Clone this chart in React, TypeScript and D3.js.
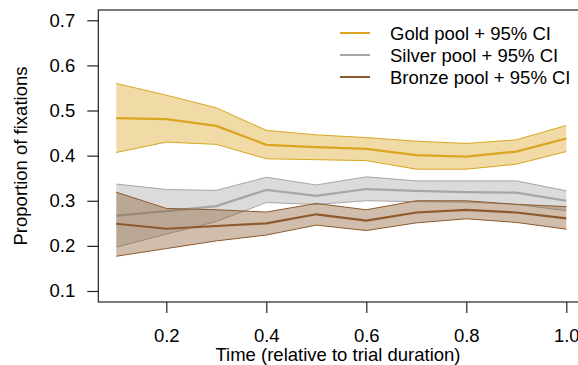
//  IMPORTS
//-------------------------------------------------------//

import { useRef, useEffect } from "react";
import * as d3 from "d3";


//  DATA
//-------------------------------------------------------//

const time = [0.1, 0.2, 0.3, 0.4, 0.5, 0.6, 0.7, 0.8, 0.9, 1.0];

const goldMean  = [0.483, 0.481, 0.466, 0.424, 0.419, 0.415, 0.401, 0.398, 0.409, 0.438];
const goldUpper = [0.560, 0.534, 0.506, 0.456, 0.446, 0.440, 0.432, 0.427, 0.435, 0.467];
const goldLower = [0.407, 0.430, 0.425, 0.393, 0.391, 0.389, 0.370, 0.370, 0.381, 0.409];

const silverMean  = [0.267, 0.277, 0.288, 0.324, 0.311, 0.326, 0.322, 0.319, 0.318, 0.300];
const silverUpper = [0.337, 0.325, 0.323, 0.352, 0.335, 0.353, 0.344, 0.344, 0.344, 0.322];
const silverLower = [0.197, 0.226, 0.254, 0.296, 0.292, 0.300, 0.298, 0.297, 0.292, 0.278];

const bronzeMean  = [0.249, 0.238, 0.244, 0.250, 0.270, 0.256, 0.274, 0.280, 0.274, 0.261];
const bronzeUpper = [0.319, 0.283, 0.280, 0.275, 0.294, 0.280, 0.300, 0.300, 0.292, 0.287];
const bronzeLower = [0.177, 0.194, 0.211, 0.224, 0.246, 0.234, 0.251, 0.260, 0.252, 0.237];

const xTicks = [0.2, 0.4, 0.6, 0.8, 1.0];
const yTicks = [0.1, 0.2, 0.3, 0.4, 0.5, 0.6, 0.7];

const seriesNames = ["Gold pool + 95% CI", "Silver pool + 95% CI", "Bronze pool + 95% CI"];
const seriesColors = ["#DAA520", "#A6A6A6", "#8C5A2D"];


//  MAIN FUNCTION
//-------------------------------------------------------//

const FONT = "'Liberation Sans', Arial, Helvetica, sans-serif";
const FONT_SIZE = 18.5;

export default function App({
  width = 578,
  height = 365,
  plotLeft = 98.3,
  plotRight = 584.3,
  plotTop = 10,
  plotBottom = 302
}) {
  const gx = useRef<SVGGElement>(null);
  const gy = useRef<SVGGElement>(null);

  // R-style limits: data range padded by 4% on each side
  const x = d3.scaleLinear([0.064, 1.036], [plotLeft, plotRight]);
  const y = d3.scaleLinear([0.0756, 0.7228], [plotBottom, plotTop]);

  const line = d3.line<number>((d, i) => x(time[i]), (d) => y(d));
  const band = (lo: number[], hi: number[]) =>
    d3.area<number>((d, i) => x(time[i]), (d, i) => y(lo[i]), (d) => y(d))(hi);

  const series = [
    { mean: goldMean, lo: goldLower, hi: goldUpper },
    { mean: silverMean, lo: silverLower, hi: silverUpper },
    { mean: bronzeMean, lo: bronzeLower, hi: bronzeUpper }
  ];

  useEffect(() => {
    const g = d3.select(gx.current);
    g.call(d3.axisBottom(x).tickValues(xTicks).tickFormat(d3.format(".1f")).tickSize(11).tickPadding(16));
    g.select(".domain").remove();
    g.selectAll("line").attr("stroke", "#222").attr("stroke-width", 1.2);
    g.selectAll("text").attr("font-size", FONT_SIZE).attr("font-family", FONT).attr("fill", "#000");
  }, [x]);

  useEffect(() => {
    const g = d3.select(gy.current);
    g.call(d3.axisLeft(y).tickValues(yTicks).tickFormat(d3.format(".1f")).tickSize(11).tickPadding(12));
    g.select(".domain").remove();
    g.selectAll("line").attr("stroke", "#222").attr("stroke-width", 1.2);
    g.selectAll("text").attr("font-size", FONT_SIZE).attr("font-family", FONT).attr("fill", "#000");
  }, [y]);

  return (
    <svg width={width} height={height} style={{ position: "absolute", left: 0, top: 0, background: "#fff" }}>
      {series.map((s, k) => (
        <g key={k}>
          <path d={band(s.lo, s.hi) ?? ""} fill={seriesColors[k]} fillOpacity={0.4} stroke="none" />
          <path d={line(s.hi) ?? ""} fill="none" stroke={seriesColors[k]} strokeWidth={1} />
          <path d={line(s.lo) ?? ""} fill="none" stroke={seriesColors[k]} strokeWidth={1} />
          <path d={line(s.mean) ?? ""} fill="none" stroke={seriesColors[k]} strokeWidth={2.2} />
        </g>
      ))}

      <rect x={plotLeft} y={plotTop} width={plotRight - plotLeft} height={plotBottom - plotTop}
        fill="none" stroke="#222" strokeWidth={1.2} />

      <g ref={gx} transform={`translate(0,${plotBottom})`} />
      <g ref={gy} transform={`translate(${plotLeft},0)`} />

      <text x={338} y={361} textAnchor="middle" fontFamily={FONT} fontSize={FONT_SIZE}>
        Time (relative to trial duration)
      </text>
      <text transform={`translate(27,${(plotTop + plotBottom) / 2}) rotate(-90)`} textAnchor="middle"
        fontFamily={FONT} fontSize={FONT_SIZE}>
        Proportion of fixations
      </text>

      <g>
        {seriesNames.map((name, k) => (
          <g key={name} transform={`translate(0,${33 + k * 22})`}>
            <line x1={340} x2={370} y1={0} y2={0} stroke={seriesColors[k]} strokeWidth={2} />
            <text x={390} y={7} fontFamily={FONT} fontSize={FONT_SIZE}>{name}</text>
          </g>
        ))}
      </g>
    </svg>
  );
}
